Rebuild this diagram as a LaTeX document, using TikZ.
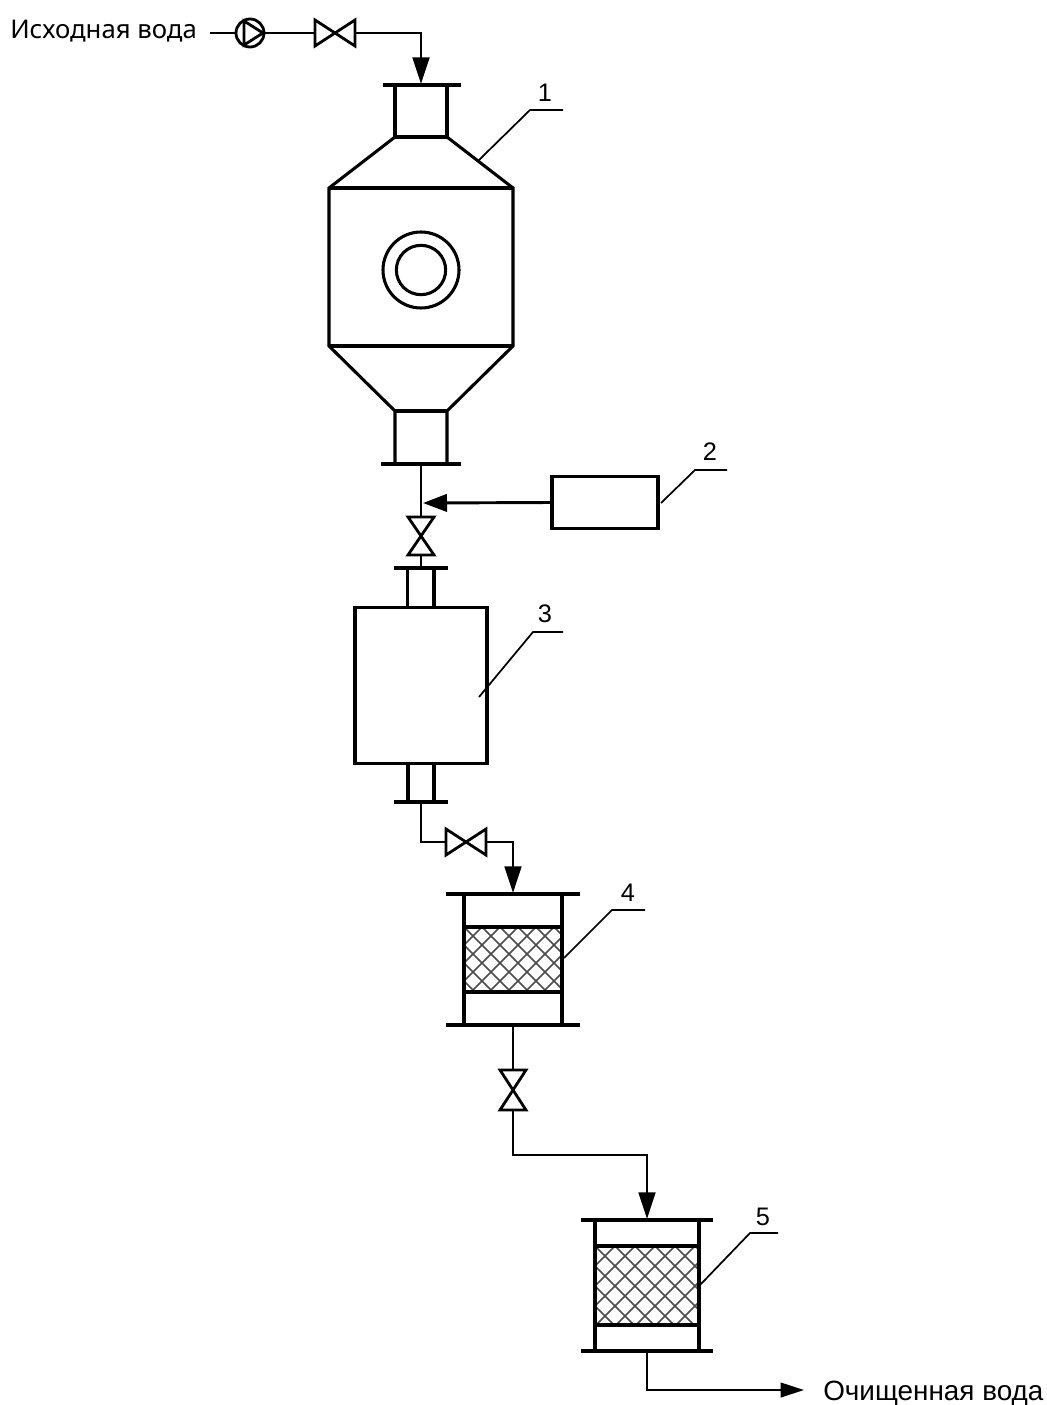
\documentclass[tikz,border=0pt]{standalone}
\usepackage{fontspec}
\setmainfont{Liberation Sans}
\newfontfamily\tahomalike{Noto Sans}
\usetikzlibrary{arrows.meta}
\tikzset{
  thick line/.style={line width=2.3pt,line cap=butt,line join=miter},
  pipe/.style={line width=2.2pt,line join=miter},
  thinpipe/.style={line width=1.4pt,line join=miter},
  leader/.style={line width=1.3pt},
  hatch/.style={line width=1.1pt,draw=black!70},
  flow/.style={-{Triangle[length=20pt,width=12.5pt]}},
  flowshort/.style={-{Triangle[length=18pt,width=13pt]}},
  num/.style={font=\fontsize{19pt}{21pt}\selectfont,inner sep=0pt},
  boxnode/.style={draw,thick line,inner sep=0pt,fill=white},
  valveline/.style={line width=2.1pt,line join=miter},
}
\newcommand{\hvalve}[3]{% centre x, y, half-width
  \draw[valveline] (#1-#3,#2-13) -- (#1+#3,#2+13) -- (#1+#3,#2-13) -- (#1-#3,#2+13) -- cycle;}
\newcommand{\vvalve}[3]{%
  \draw[valveline] (#1-13,#2-#3) -- (#1+13,#2+#3) -- (#1-13,#2+#3) -- (#1+13,#2-#3) -- cycle;}
\newcommand{\filterbed}[5]{% xl xr yt yb spacing
  \begin{scope}
    \clip (#1,#3) rectangle (#2,#4);
    \foreach \k in {-12,...,18}{
      \draw[hatch] (#1+\k*#5,#3) -- ++(120,120);
      \draw[hatch] (#1+\k*#5,#3) -- ++(-120,120);
    }
  \end{scope}
}
\begin{document}
\begin{tikzpicture}[x=0.75pt,y=-0.75pt]
\useasboundingbox (0,0) rectangle (1046,1405);
\fill[white] (0,0) rectangle (1046,1405);

% Inlet
\node[anchor=west,inner sep=0pt,font=\tahomalike\fontsize{19.3pt}{21pt}\selectfont] (inlet) at (10,31) {Исходная вода};
\coordinate (instart) at (210,33);
\node[circle,draw,line width=2.1pt,minimum size=21pt,inner sep=0pt] (pump) at (250,33) {};
\draw[valveline] (244,21) -- (263,33) -- (244,45) -- cycle;
\draw[pipe] (instart) -- (pump.west);
\coordinate (v1) at (335,33);
\hvalve{335}{33}{20}
\coordinate (v1l) at (315,33);
\coordinate (v1r) at (355,33);
\coordinate (c1) at (421,33);
\coordinate (top1) at (421,84);
\draw[pipe] (pump.east) -- (v1l);
\draw[pipe,flow] (v1r) -- (c1) -- (top1);

% Vessel 1
\draw[thick line] (383,85) -- (461,85);
\draw[thick line] (395,85) -- (395,137) -- (447,137) -- (447,85);
\draw[thick line] (395,137) -- (329,188) -- (329,346) -- (395,411) -- (395,464);
\draw[thick line] (447,137) -- (513,188) -- (513,346) -- (447,411) -- (447,464);
\draw[thick line] (329,188) -- (513,188);
\draw[thick line] (329,346) -- (513,346);
\draw[thick line] (395,411) -- (447,411);
\draw[thick line] (381,464) -- (461,464);
\node[circle,draw,thick line,minimum size=57pt,inner sep=0pt] (ring1) at (421,270) {};
\node[circle,draw,thick line,minimum size=37pt,inner sep=0pt] (ring2) at (421,270) {};
\coordinate (l1a) at (478,161); \coordinate (l1b) at (530,110); \coordinate (l1c) at (563,110);
\draw[leader] (l1a) -- (l1b) -- (l1c);
\node[num] (n1) at (545,93) {1};

% Dosing unit 2
\node[boxnode,minimum width=79.5pt,minimum height=38.5pt] (box2) at (605,502.5) {};
\coordinate (j2) at (423,503);
\coordinate (b1) at (421,464);
\coordinate (v2t) at (421,517);
\draw[pipe] (b1) -- (v2t);
\draw[pipe,flowshort] (box2.west) -- (j2);
\coordinate (l2a) at (661,503); \coordinate (l2b) at (695,470); \coordinate (l2c) at (727,470);
\draw[leader] (l2a) -- (l2b) -- (l2c);
\node[num] (n2) at (710,452) {2};

% Valve 2
\vvalve{421}{536}{19}
\coordinate (v2b) at (421,555);
\coordinate (t3) at (421,568);
\draw[pipe] (v2b) -- (t3);

% Vessel 3
\draw[thick line] (394,568) -- (448,568);
\draw[thick line] (407.5,568) -- (407.5,607);
\draw[thick line] (434,568) -- (434,607);
\node[boxnode,minimum width=99pt,minimum height=117.5pt] (box3) at (421,685.5) {};
\draw[thick line] (408,764) -- (408,802);
\draw[thick line] (434,764) -- (434,802);
\draw[thick line] (394,802) -- (448,802);
\coordinate (l3a) at (479,697); \coordinate (l3b) at (533,632); \coordinate (l3c) at (563,632);
\draw[leader] (l3a) -- (l3b) -- (l3c);
\node[num] (n3) at (545,614) {3};

% Pipe 3 to filter 4
\coordinate (b3) at (421,802); \coordinate (c3) at (421,842); \coordinate (v3l) at (446,842);
\coordinate (v3r) at (486,842); \coordinate (c4) at (513,842); \coordinate (t4) at (513,893);
\draw[pipe] (b3) -- (c3) -- (v3l);
\hvalve{466}{842}{20}
\draw[pipe,flow] (v3r) -- (c4) -- (t4);

% Filter 4
\filterbed{464}{562}{927}{992}{18}
\draw[thick line] (446,894) -- (580,894);
\draw[thick line] (446,1025) -- (580,1025);
\draw[thick line] (464,894) -- (464,1025);
\draw[thick line] (562,894) -- (562,1025);
\draw[thick line] (464,927) -- (562,927);
\draw[thick line] (464,992) -- (562,992);
\coordinate (l4a) at (564,958); \coordinate (l4b) at (612,910); \coordinate (l4c) at (645,910);
\draw[leader] (l4a) -- (l4b) -- (l4c);
\node[num] (n4) at (628,893) {4};

% Pipe 4 to filter 5
\coordinate (b4) at (513,1025); \coordinate (v4t) at (513,1070);
\draw[pipe] (b4) -- (v4t);
\vvalve{513}{1090}{20}
\coordinate (v4b) at (513,1110); \coordinate (c5) at (513,1155); \coordinate (c6) at (647,1155); \coordinate (t5) at (647,1219);
\draw[pipe,flow] (v4b) -- (c5) -- (c6) -- (t5);

% Filter 5
\filterbed{595}{699}{1246}{1325}{20}
\draw[thick line] (581,1220) -- (713,1220);
\draw[thick line] (581,1351) -- (713,1351);
\draw[thick line] (595,1220) -- (595,1351);
\draw[thick line] (699,1220) -- (699,1351);
\draw[thick line] (595,1246) -- (699,1246);
\draw[thick line] (595,1325) -- (699,1325);
\coordinate (l5a) at (700,1285); \coordinate (l5b) at (750,1233); \coordinate (l5c) at (778,1233);
\draw[leader] (l5a) -- (l5b) -- (l5c);
\node[num] (n5) at (763,1217) {5};

% Outlet
\node[anchor=west,inner sep=0pt,font=\fontsize{20.9pt}{23pt}\selectfont] (outlet) at (823,1394) {Очищенная вода};
\coordinate (b5) at (647,1351); \coordinate (c7) at (647,1390);
\draw[thinpipe,-{Triangle[length=17.5pt,width=11pt]}] (b5) -- (c7) -- (804,1390);
\end{tikzpicture}
\end{document}
